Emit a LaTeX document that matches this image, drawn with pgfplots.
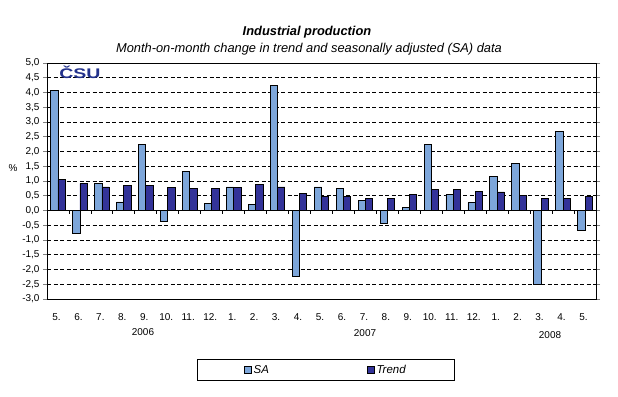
\documentclass[border=0pt]{standalone}
\usepackage{fontspec}
\setmainfont{Liberation Sans}
\usepackage{pgfplots}
\usepackage{pgfplotstable}
\pgfplotsset{compat=1.18}
\definecolor{sa}{RGB}{125,166,218}
\definecolor{trend}{RGB}{51,51,153}
\definecolor{logo}{RGB}{35,50,140}

% month-on-month change, 5/2006 .. 5/2008
\pgfplotstableread{
x sa trend
0 4.07 1.04
1 -0.79 0.92
2 0.91 0.80
3 0.29 0.85
4 2.24 0.85
5 -0.36 0.77
6 1.32 0.74
7 0.24 0.74
8 0.80 0.77
9 0.20 0.88
10 4.23 0.80
11 -2.23 0.58
12 0.80 0.47
13 0.74 0.48
14 0.35 0.42
15 -0.45 0.42
16 0.09 0.53
17 2.23 0.70
18 0.53 0.70
19 0.26 0.66
20 1.14 0.63
21 1.59 0.50
22 -2.52 0.40
23 2.67 0.42
24 -0.69 0.47
}\ipdata

\begin{document}
\begin{tikzpicture}[x=1bp,y=1bp]
\path[use as bounding box] (0,0) rectangle (618,396);
\node[font=\bfseries\itshape\fontsize{12.9}{13}\selectfont] at (307,364) {Industrial production};
\node[font=\itshape\fontsize{12.9}{13}\selectfont] at (309,347) {Month-on-month change in trend and seasonally adjusted (SA) data};
\node[font=\fontsize{10}{10}\selectfont] at (13,228) {\%};
\begin{axis}[
 at={(47bp,97bp)}, anchor=south west, scale only axis,
 width=549bp, height=236bp,
 ybar=0pt, bar width=7.3bp,
 xmin=-0.5, xmax=24.5, ymin=-3, ymax=5,
 xtick={0,...,24},
 xticklabels={5.,6.,7.,8.,9.,10.,11.,12.,1.,2.,3.,4.,5.,6.,7.,8.,9.,10.,11.,12.,1.,2.,3.,4.,5.},
 ytick={-3,-2.5,...,5},
 axis line style={line width=0.8bp},
 tick label style={font=\fontsize{10}{10}\selectfont},
 xtick style={draw=none},
 xticklabel style={yshift=-7bp, xshift=-1.5bp},
 ytick style={line width=0.8bp},
 tick align=outside, major tick length=4bp,
 yticklabel style={/pgf/number format/.cd, fixed, fixed zerofill, precision=1, use comma, assume math mode=true},
 ymajorgrids, grid style={black, line width=0.7bp, dash pattern=on 4bp off 2.5bp},
 legend style={at={(0.508,-0.30)}, anchor=center, draw=black, line width=0.8bp,
   legend columns=2, font=\itshape\fontsize{11.5}{11.5}\selectfont,
   inner xsep=47bp, inner ysep=3.5bp,
   /tikz/every even column/.append style={column sep=96bp}},
 legend image code/.code={\draw[#1,line width=0.6bp] (0bp,-3.5bp) rectangle (7bp,3.5bp);},
]
\addplot[fill=sa, draw=black, line width=0.8bp] table[x=x, y=sa] {\ipdata};
\addplot[fill=trend, draw=black, line width=0.8bp] table[x=x, y=trend] {\ipdata};
\legend{SA, Trend}
\draw[black, line width=0.8bp] (axis cs:-0.5,0) -- (axis cs:24.5,0);
\pgfplotsinvokeforeach{0,...,23}{
  \draw[black, line width=0.8bp] (axis cs:#1+0.5,0) -- ([yshift=-3.5bp]axis cs:#1+0.5,0);
}
\node[font=\bfseries\fontsize{14}{14}\selectfont, text=logo, xscale=1.4] at (rel axis cs:0.06,0.962) {ČSU};
\end{axis}
\node[font=\fontsize{10}{10}\selectfont] at (143,64) {2006};
\node[font=\fontsize{10}{10}\selectfont] at (365,63) {2007};
\node[font=\fontsize{10}{10}\selectfont] at (550,61) {2008};
\end{tikzpicture}
\end{document}
